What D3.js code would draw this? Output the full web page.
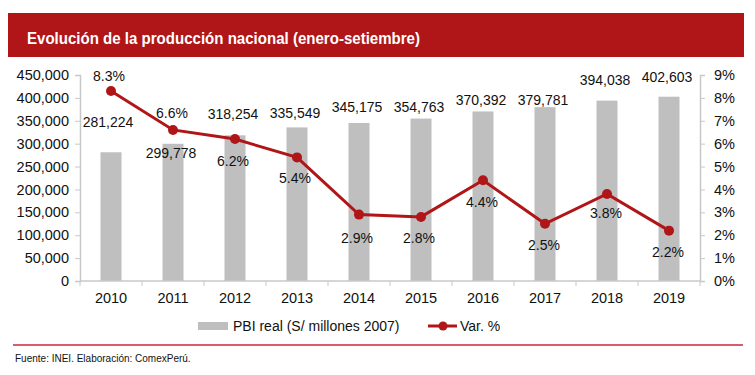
<!DOCTYPE html>
<html>
<head>
<meta charset="utf-8">
<script src="https://cdn.jsdelivr.net/npm/d3@7"></script>
<style>
  body { margin: 0; background: #fff; }
  svg { display: block; font-family: "Liberation Sans", Arial, sans-serif; }
</style>
</head>
<body>
<div id="chart"></div>
<script>
// data
const years = ["2010", "2011", "2012", "2013", "2014", "2015", "2016", "2017", "2018", "2019"];
const pbiReal = [281224, 299778, 318254, 335549, 345175, 354763, 370392, 379781, 394038, 402603];
const varPct = [8.3, 6.6, 6.2, 5.4, 2.9, 2.8, 4.4, 2.5, 3.8, 2.2];
const leftTicks = [0, 50000, 100000, 150000, 200000, 250000, 300000, 350000, 400000, 450000];
const rightTicks = [0, 1, 2, 3, 4, 5, 6, 7, 8, 9];

// label nudges so they don't collide (as in the original)
const barLabelShift = [[-3, -25], [-2, 14], [-2, -16], [-2, -9], [-2, -11], [-2, -7], [-2, -6], [-2, -2], [-2, -16], [-2, -15]];
const lineLabelShift = [[-2, -10], [-1, -12], [-2, 27], [-2, 26], [-2, 28], [-2, 26], [-1, 27], [-1, 26], [-1, 24], [-1, 26]];

const W = 755, H = 375;
const red = "#B01517";
const grey = "#BFBFBF";
const axisGrey = "#C8C8C8";

const svg = d3.select("#chart").append("svg")
    .attr("width", W)
    .attr("height", H);

// title bar
svg.append("rect")
    .attr("x", 8).attr("y", 13)
    .attr("width", 736).attr("height", 44)
    .attr("fill", red);

svg.append("text")
    .attr("x", 27).attr("y", 44)
    .attr("fill", "white")
    .style("font-size", "16px")
    .style("font-weight", "bold")
    .attr("textLength", 393)
    .attr("lengthAdjust", "spacingAndGlyphs")
    .text("Evolución de la producción nacional (enero-setiembre)");

// scales
const band = d3.scaleBand().domain(years).range([80, 700]);

const yL = d3.scaleLinear().domain([0, 450000]).range([281, 75]);
const yR = d3.scaleLinear().domain([0, 9]).range([281, 75]);

// bars
svg.append("g").selectAll("rect")
    .data(pbiReal)
    .join("rect")
    .attr("x", (d, i) => band(years[i]) + band.bandwidth() / 2 - 10.5)
    .attr("width", 21)
    .attr("y", d => yL(d))
    .attr("height", d => yL(0) - yL(d))
    .attr("fill", grey);

// left axis
const leftAxis = svg.append("g")
    .attr("transform", "translate(80,0)")
    .call(d3.axisLeft(yL).tickValues(leftTicks).tickSize(5).tickPadding(6)
        .tickFormat(d3.format(",")));

// right axis
const rightAxis = svg.append("g")
    .attr("transform", "translate(700,0)")
    .call(d3.axisRight(yR).tickValues(rightTicks).tickSize(5).tickPadding(9)
        .tickFormat(d => d + "%"));

// x axis: ticks between categories
const xAxis = svg.append("g")
    .attr("transform", "translate(0,281)")
    .call(d3.axisBottom(band).tickSize(0).tickPadding(12));

svg.append("g").selectAll("line")
    .data(d3.range(years.length + 1))
    .join("line")
    .attr("x1", i => 80 + i * band.step())
    .attr("x2", i => 80 + i * band.step())
    .attr("y1", 281).attr("y2", 286)
    .attr("stroke", axisGrey);

[leftAxis, rightAxis, xAxis].forEach(g => {
    g.select(".domain").attr("stroke", axisGrey).attr("stroke-width", 1.5);
    g.selectAll(".tick line").attr("stroke", axisGrey);
    g.selectAll(".tick text")
        .attr("fill", "#111")
        .style("font-size", "14.5px")
        .style("font-family", "'Liberation Sans', Arial, sans-serif");
});
xAxis.select(".domain").attr("d", "M80,0H700");

// bar value labels
svg.append("g").selectAll("text")
    .data(pbiReal)
    .join("text")
    .attr("x", (d, i) => band(years[i]) + band.bandwidth() / 2 + barLabelShift[i][0])
    .attr("y", (d, i) => yL(d) + barLabelShift[i][1])
    .attr("text-anchor", "middle")
    .attr("fill", "#111")
    .style("font-size", "14px")
    .text(d => d3.format(",")(d));

// variation line
const cx = (d, i) => band(years[i]) + band.bandwidth() / 2;
const line = d3.line()
    .x((d, i) => cx(d, i))
    .y(d => yR(d));

svg.append("path")
    .datum(varPct)
    .attr("fill", "none")
    .attr("stroke", red)
    .attr("stroke-width", 3)
    .attr("d", line);

svg.append("g").selectAll("circle")
    .data(varPct)
    .join("circle")
    .attr("cx", cx)
    .attr("cy", d => yR(d))
    .attr("r", 5)
    .attr("fill", red);

svg.append("g").selectAll("text")
    .data(varPct)
    .join("text")
    .attr("x", (d, i) => cx(d, i) + lineLabelShift[i][0])
    .attr("y", (d, i) => yR(d) + lineLabelShift[i][1])
    .attr("text-anchor", "middle")
    .attr("fill", "#111")
    .style("font-size", "14px")
    .text(d => d.toFixed(1) + "%");

// legend
const legend = svg.append("g");
legend.append("rect")
    .attr("x", 198).attr("y", 322)
    .attr("width", 30).attr("height", 8)
    .attr("fill", grey);
legend.append("text")
    .attr("x", 233).attr("y", 331)
    .attr("fill", "#111")
    .style("font-size", "14px")
    .text("PBI real (S/ millones 2007)");
legend.append("line")
    .attr("x1", 428).attr("x2", 457)
    .attr("y1", 326).attr("y2", 326)
    .attr("stroke", red).attr("stroke-width", 3);
legend.append("circle")
    .attr("cx", 443).attr("cy", 326).attr("r", 4.5)
    .attr("fill", red);
legend.append("text")
    .attr("x", 460).attr("y", 331)
    .attr("fill", "#111")
    .style("font-size", "14px")
    .text("Var. %");

// footer
svg.append("line")
    .attr("x1", 13).attr("x2", 743)
    .attr("y1", 345).attr("y2", 345)
    .attr("stroke", "#C8283A")
    .attr("stroke-width", 1.5);

svg.append("text")
    .attr("x", 15).attr("y", 362)
    .attr("fill", "#111")
    .style("font-size", "10px")
    .text("Fuente: INEI. Elaboración: ComexPerú.");
</script>
</body>
</html>
